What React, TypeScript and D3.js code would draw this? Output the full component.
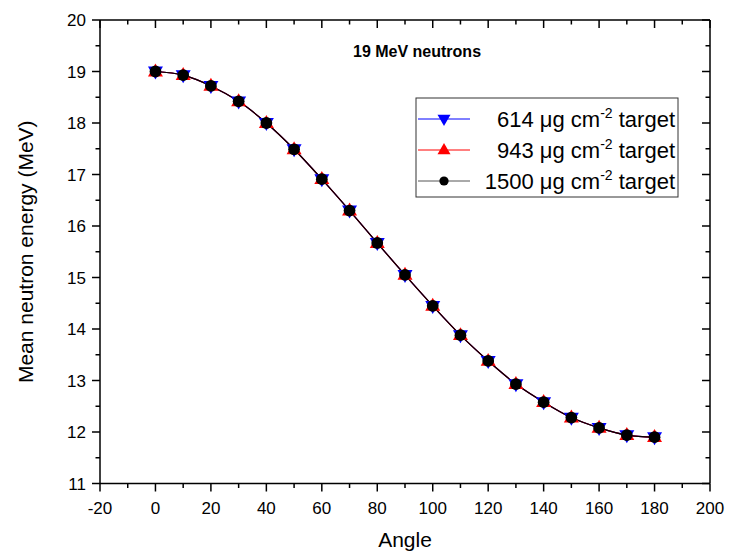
import React from "react";
import * as d3 from "d3";

const angles = [0, 10, 20, 30, 40, 50, 60, 70, 80, 90, 100, 110, 120, 130, 140, 150, 160, 170, 180];
const energy614 = [19.0, 18.93, 18.72, 18.42, 18.0, 17.49, 16.91, 16.3, 15.67, 15.05, 14.45, 13.88, 13.38, 12.93, 12.58, 12.28, 12.08, 11.94, 11.9];
const energy943 = [19.0, 18.93, 18.72, 18.42, 18.0, 17.49, 16.91, 16.3, 15.67, 15.05, 14.45, 13.88, 13.38, 12.93, 12.58, 12.28, 12.08, 11.94, 11.9];
const energy1500 = [19.0, 18.93, 18.72, 18.42, 18.0, 17.49, 16.91, 16.3, 15.67, 15.05, 14.45, 13.88, 13.38, 12.93, 12.58, 12.28, 12.08, 11.94, 11.9];
const xTicks = [-20, 0, 20, 40, 60, 80, 100, 120, 140, 160, 180, 200];
const yTicks = [11, 12, 13, 14, 15, 16, 17, 18, 19, 20];
const seriesLabels = ["614", "943", "1500"];
const seriesColors = ["#0000ff", "#ff0000", "#000000"];
const seriesShapes = ["down", "up", "circle"];

const W = 729, H = 551;
const L = 100, R = 710, T = 20, B = 483.5;
const FONT = "Arial, 'Liberation Sans', sans-serif";

function marker(shape: string, cx: number, cy: number, color: string, s: number, key?: any) {
  if (shape === "circle") return <circle key={key} cx={cx} cy={cy} r={s * 0.42} fill={color} />;
  const h = s * 0.866;
  if (shape === "up") {
    const p = `${cx},${cy - h * 0.62} ${cx - s / 2},${cy + h * 0.38} ${cx + s / 2},${cy + h * 0.38}`;
    return <polygon key={key} points={p} fill={color} />;
  }
  const p = `${cx},${cy + h * 0.62} ${cx - s / 2},${cy - h * 0.38} ${cx + s / 2},${cy - h * 0.38}`;
  return <polygon key={key} points={p} fill={color} />;
}

export default function App() {
  const x = d3.scaleLinear().domain([-20, 200]).range([L, R]);
  const y = d3.scaleLinear().domain([11, 20]).range([B, T]);
  const series = [energy614, energy943, energy1500];
  const line = d3.line<number>().x((_, i) => x(angles[i])).y((d) => y(d)).curve(d3.curveCatmullRom);
  const xMinor = d3.range(-10, 200, 20);
  const yMinor = d3.range(11.5, 20, 1);
  const legY = [119, 150, 181];
  return (
    <svg width={W} height={H} style={{ position: "absolute", left: 0, top: 0, background: "#fff" }} fontFamily={FONT}>
      <rect x={0} y={0} width={W} height={H} fill="#fff" />
      {series.map((s, k) => (
        <path key={"l" + k} d={line(s) || ""} fill="none" stroke={seriesColors[k]} strokeWidth={1.2} />
      ))}
      {series.map((s, k) => (
        <g key={"m" + k}>
          {s.map((v, i) => marker(seriesShapes[k], x(angles[i]), y(v), seriesColors[k], k === 2 ? 14 : 15, i))}
        </g>
      ))}
      <g stroke="#000" strokeWidth={1.5} fill="none">
        <line x1={L} x2={R} y1={B} y2={B} />
        <line x1={L} x2={R} y1={T} y2={T} />
        <line x1={L} x2={L} y1={T} y2={B} />
        <line x1={R} x2={R} y1={T} y2={B} />
        {xTicks.map((t) => (
          <g key={"xt" + t}>
            <line x1={x(t)} x2={x(t)} y1={B} y2={B + 8} />
            <line x1={x(t)} x2={x(t)} y1={T} y2={T + 8} />
          </g>
        ))}
        {xMinor.map((t) => (
          <g key={"xm" + t}>
            <line x1={x(t)} x2={x(t)} y1={B} y2={B + 4.5} />
            <line x1={x(t)} x2={x(t)} y1={T} y2={T + 4.5} />
          </g>
        ))}
        {yTicks.map((t) => (
          <g key={"yt" + t}>
            <line x1={L - 8} x2={L} y1={y(t)} y2={y(t)} />
            <line x1={R - 8} x2={R} y1={y(t)} y2={y(t)} />
          </g>
        ))}
        {yMinor.map((t) => (
          <g key={"ym" + t}>
            <line x1={L - 4.5} x2={L} y1={y(t)} y2={y(t)} />
            <line x1={R - 4.5} x2={R} y1={y(t)} y2={y(t)} />
          </g>
        ))}
      </g>
      {xTicks.map((t) => (
        <text key={"xl" + t} x={x(t)} y={514} textAnchor="middle" fontSize={17} fill="#000">{t}</text>
      ))}
      {yTicks.map((t) => (
        <text key={"yl" + t} x={86} y={y(t) + 6} textAnchor="end" fontSize={17} fill="#000">{t}</text>
      ))}
      <text x={(L + R) / 2} y={547} textAnchor="middle" fontSize={21} fill="#000">Angle</text>
      <text transform={`translate(33,${(T + B) / 2}) rotate(-90)`} textAnchor="middle" fontSize={21} fill="#000">Mean neutron energy (MeV)</text>
      <text x={353} y={57} fontSize={16} fontWeight="bold" fill="#000">19 MeV neutrons</text>
      <rect x={416} y={98} width={262} height={99} fill="#fff" stroke="#333" strokeWidth={1} />
      {seriesLabels.map((lab, k) => (
        <g key={"lg" + k}>
          <line x1={418} x2={470} y1={legY[k]} y2={legY[k]} stroke={seriesColors[k] === "#000000" ? "#555" : seriesColors[k]} strokeWidth={1} />
          {marker(seriesShapes[k], 444, legY[k], seriesColors[k], k === 2 ? 11 : 13)}
          <text x={675} y={legY[k] + 8} textAnchor="end" fontSize={22} fill="#000">
            {lab} μg cm<tspan fontSize={14} dy={-9}>-2</tspan><tspan dy={9}> target</tspan>
          </text>
        </g>
      ))}
    </svg>
  );
}
